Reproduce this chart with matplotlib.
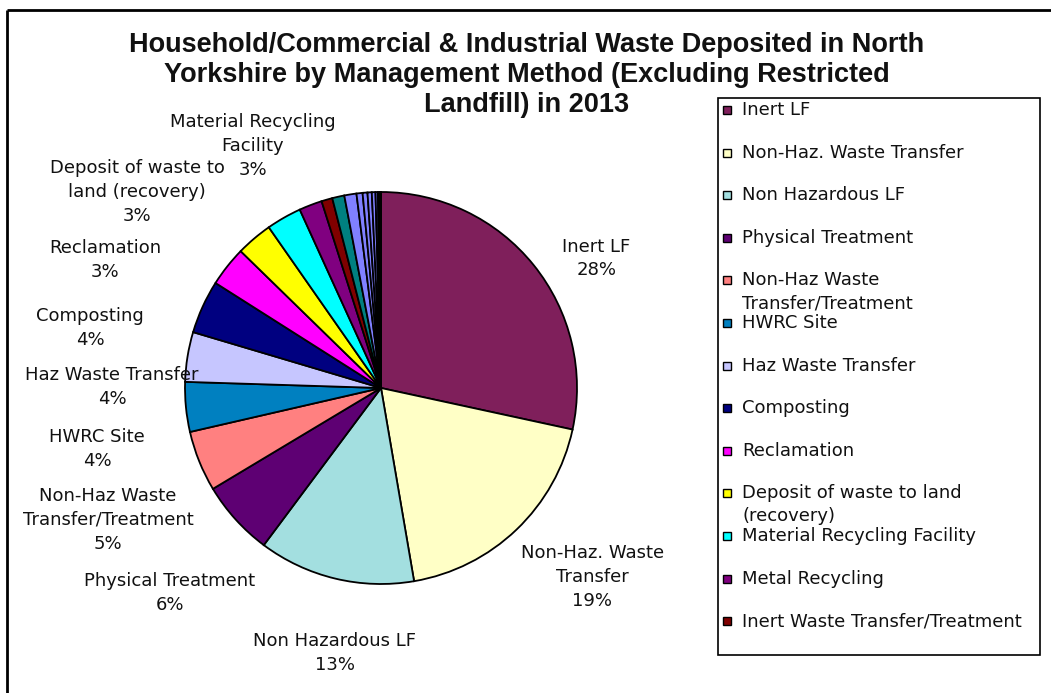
import matplotlib
matplotlib.use("Agg")
import matplotlib.pyplot as plt
from matplotlib.patches import Rectangle

# share of waste (%) by management method, in pie order (clockwise from 12 o'clock)
categories = ["Inert LF", "Non-Haz. Waste Transfer", "Non Hazardous LF",
              "Physical Treatment", "Non-Haz Waste Transfer/Treatment", "HWRC Site",
              "Haz Waste Transfer", "Composting", "Reclamation",
              "Deposit of waste to land (recovery)", "Material Recycling Facility",
              "Metal Recycling", "Inert Waste Transfer/Treatment",
              "Other 1", "Other 2", "Other 3", "Other 4", "Other 5", "Other 6",
              "Other 7", "Other 8", "Other 9"]
shares = [28.4, 18.9, 12.9, 6.2, 5.0, 4.1, 4.1, 4.4, 3.3, 3.0, 2.9,
          1.9, 0.9, 1.0, 1.0, 0.5, 0.4, 0.35, 0.3, 0.2, 0.15, 0.1]
colours = ["#7F1F5B", "#FFFFC6", "#A3DFE0", "#5E0073", "#FF8080", "#0080C0",
           "#C6C6FF", "#000080", "#FF00FF", "#FFFF00", "#00FFFF",
           "#800080", "#800000", "#008080", "#8080FF", "#8080FF", "#8080FF",
           "#8080FF", "#8080FF", "#6060D0", "#202060", "#000040"]

# wording used on the pie labels (only the big slices are labelled)
pie_names = ["Inert LF", "Non-Haz. Waste\nTransfer", "Non Hazardous LF",
             "Physical Treatment", "Non-Haz Waste\nTransfer/Treatment", "HWRC Site",
             "Haz Waste Transfer", "Composting", "Reclamation",
             "Deposit of waste to\nland (recovery)", "Material Recycling\nFacility"]
# wording in the legend (legend is cut off after 13 entries)
legend_names = ["Inert LF", "Non-Haz. Waste Transfer", "Non Hazardous LF",
                "Physical Treatment", "Non-Haz Waste\nTransfer/Treatment", "HWRC Site",
                "Haz Waste Transfer", "Composting", "Reclamation",
                "Deposit of waste to land\n(recovery)", "Material Recycling Facility",
                "Metal Recycling", "Inert Waste Transfer/Treatment"]

title_lines = ["Household/Commercial & Industrial Waste Deposited in North",
               "Yorkshire by Management Method (Excluding Restricted",
               "Landfill) in 2013"]

# label centres in units of pie radius, relative to pie centre
label_pos = [(1.10, 0.66), (1.077, -0.964), (-0.235, -1.352), (-1.077, -1.046),
             (-1.393, -0.673), (-1.449, -0.311), (-1.372, 0.005), (-1.485, 0.306),
             (-1.408, 0.653), (-1.245, 1.0), (-0.653, 1.235)]

W, H = 1051, 693
plt.rcParams['font.family'] = ['DejaVu Sans']
FS = 13

fig = plt.figure(figsize=(W / 100, H / 100), dpi=100)
ax = fig.add_axes([0, 0, 1, 1])

cx, cy, r = 381, H - 388, 196
wedges, _ = ax.pie(shares, colors=colours, startangle=90, counterclock=False,
                   center=(cx, cy), radius=r, frame=True,
                   wedgeprops=dict(edgecolor="black", linewidth=1.3))
ax.set_xlim(0, W)
ax.set_ylim(0, H)
ax.set_aspect("equal")
ax.axis("off")

for name, val, (lx, ly) in zip(pie_names, shares, label_pos):
    ax.text(cx + lx * r, cy + ly * r, name + "\n" + f"{round(val)}%",
            ha="center", va="center", fontsize=FS, linespacing=1.4, color="#111111")

for i, line in enumerate(title_lines):
    ax.text(527, H - (45 + i * 30), line, ha="center", va="center", fontsize=19.5,
            fontweight="bold", family="Liberation Sans", color="#111111")

# outer chart frame (left and top edges visible)
ax.plot([6.5, 6.5], [H - 9.5, 0], color="black", lw=2, solid_capstyle="butt")
ax.plot([6.5, W], [H - 9.5, H - 9.5], color="black", lw=2, solid_capstyle="butt")

# legend box
ax.add_patch(Rectangle((718, H - 655), 322, 557, fill=False, edgecolor="black", lw=1.2))
for i, lab in enumerate(legend_names):
    y = H - (110 + i * 42.6)
    ax.add_patch(Rectangle((723, y - 4), 8, 8, facecolor=colours[i],
                           edgecolor="black", lw=1))
    for k, part in enumerate(lab.split("\n")):
        ax.text(742, y - k * 23, part, ha="left", va="center", fontsize=FS,
                color="#111111")

fig.savefig("out.png", dpi=100)
